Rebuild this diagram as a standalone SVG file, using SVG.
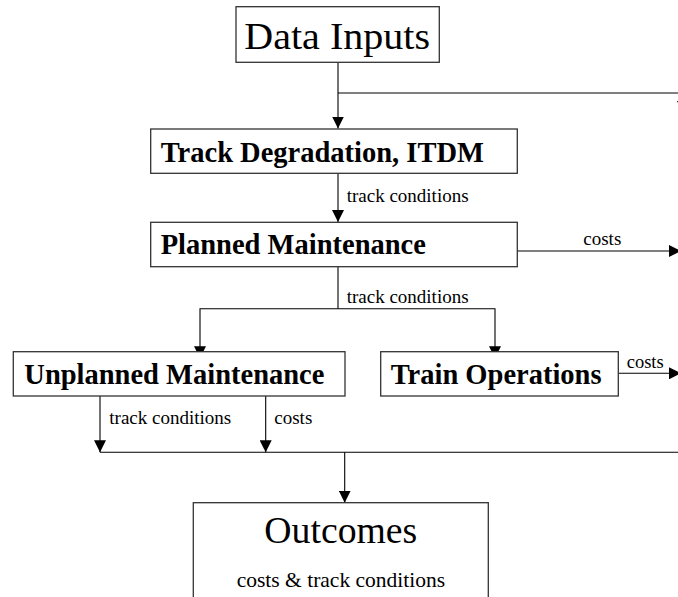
<svg xmlns="http://www.w3.org/2000/svg" width="678" height="597" viewBox="0 0 678 597">
<style>
.box{fill:#fff;stroke:#333;stroke-width:1.3}
.conn{fill:none;stroke:#000;stroke-width:1.1}
text{font-family:'Liberation Serif',Tinos,Times,serif;fill:#000}
.big{font-size:37px}
.bold{font-size:28.5px;font-weight:bold}
.lbl{font-size:19px}
</style>
<defs>
<marker id="ah" markerWidth="12" markerHeight="12" refX="12" refY="6" orient="auto" markerUnits="userSpaceOnUse">
<path d="M0,0 L12,6 L0,12 z" fill="#000"/>
</marker>
</defs>
<rect width="678" height="597" fill="#fff"/>
<g id="connectors">
<path class="conn" d="M338,62.3 V128.5" marker-end="url(#ah)"/>
<path class="conn" d="M338,93 H683 V113" marker-end="url(#ah)"/>
<path class="conn" d="M338,173.3 V222" marker-end="url(#ah)"/>
<path class="conn" d="M517.3,251 H681" marker-end="url(#ah)"/>
<path class="conn" d="M338,266.7 V308.7"/>
<path class="conn" d="M338,308.7 H200 V358.3" marker-end="url(#ah)"/>
<path class="conn" d="M338,308.7 H495 V358.3" marker-end="url(#ah)"/>
<path class="conn" d="M618.3,373.3 H681" marker-end="url(#ah)"/>
<path class="conn" d="M100,396 V452.3" marker-end="url(#ah)"/>
<path class="conn" d="M265.7,396 V452.3" marker-end="url(#ah)"/>
<path class="conn" d="M100,452.3 H680"/>
<path class="conn" d="M344.7,452.3 V502.7" marker-end="url(#ah)"/>
<text class="lbl" x="346.7" y="202" font-family="Liberation Serif">track conditions</text>
<text class="lbl" x="583.3" y="245" font-family="Liberation Serif">costs</text>
<text class="lbl" x="346.7" y="302.7" font-family="Liberation Serif">track conditions</text>
<text class="lbl" x="626.7" y="368.3" font-family="Liberation Serif" style="font-size:18.5px">costs</text>
<text class="lbl" x="109.3" y="424.3" font-family="Liberation Serif">track conditions</text>
<text class="lbl" x="274.3" y="424.3" font-family="Liberation Serif">costs</text>
</g>
<g id="data-inputs">
<rect class="box" x="236" y="6.7" width="203.3" height="55.6"/>
<text class="big" x="244.3" y="49" font-family="Liberation Serif" textLength="185.7" lengthAdjust="spacingAndGlyphs">Data Inputs</text>
</g>
<g id="track-degradation">
<rect class="box" x="150.7" y="129" width="366.6" height="44.3"/>
<text class="bold" x="160.7" y="161.7" font-family="Liberation Serif">Track Degradation, ITDM</text>
</g>
<g id="planned-maintenance">
<rect class="box" x="150.7" y="222.3" width="366.6" height="44.4"/>
<text class="bold" x="160.7" y="254.3" font-family="Liberation Serif">Planned Maintenance</text>
</g>
<g id="unplanned-maintenance">
<rect class="box" x="13.3" y="351.7" width="331.7" height="44.3"/>
<text class="bold" x="24.3" y="384.3" font-family="Liberation Serif">Unplanned Maintenance</text>
</g>
<g id="train-operations">
<rect class="box" x="380.7" y="351.7" width="237.6" height="44.3"/>
<text class="bold" x="390.7" y="384.3" font-family="Liberation Serif">Train Operations</text>
</g>
<g id="outcomes">
<rect class="box" x="193.3" y="502.7" width="295" height="120"/>
<text class="big" x="264.3" y="543.3" font-family="Liberation Serif" textLength="153" lengthAdjust="spacingAndGlyphs">Outcomes</text>
<text class="lbl" x="236.7" y="586.7" font-family="Liberation Serif" style="font-size:21.5px">costs &amp; track conditions</text>
</g>
</svg>
